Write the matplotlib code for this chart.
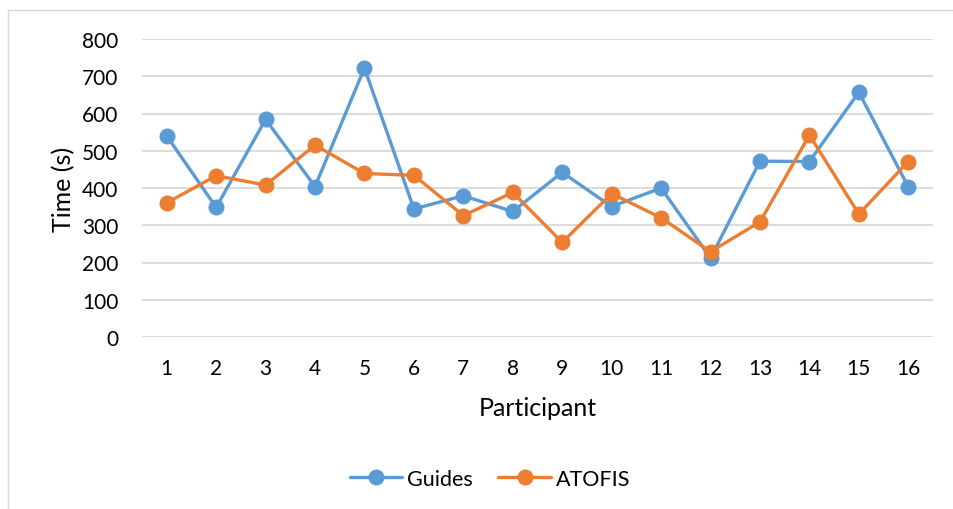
import matplotlib.pyplot as plt
from matplotlib.patches import Rectangle

# data
participants = list(range(1, 17))
guides = [540, 348, 584, 404, 722, 344, 379, 337, 442, 350, 400, 212, 472, 471, 657, 403]
atofis = [360, 433, 408, 515, 439, 434, 326, 388, 254, 385, 320, 229, 309, 542, 330, 471]
yticks = [0, 100, 200, 300, 400, 500, 600, 700, 800]

plt.rcParams['font.family'] = ['Lato', 'DejaVu Sans']

fig = plt.figure(figsize=(9.54, 5.10), dpi=100)
ax = fig.add_axes([142 / 954, 1 - 338 / 510, (933 - 142) / 954, (338 - 40) / 510])

# chart border (light gray frame, cut off at right/bottom)
fig.patches.append(Rectangle((8 / 954, -0.1), 1.2, 1 - 11 / 510 + 0.1,
                             transform=fig.transFigure, fill=False,
                             edgecolor='#D9D9D9', linewidth=1.0))

ax.plot(participants, guides, color='#5B9BD5', lw=2.4, marker='o', ms=10.5,
        label='Guides', solid_capstyle='round', zorder=3)
ax.plot(participants, atofis, color='#ED7D31', lw=2.4, marker='o', ms=10.5,
        label='ATOFIS', solid_capstyle='round', zorder=4)

ax.set_xlim(0.5, 16.5)
ax.set_ylim(0, 800)
ax.set_xticks(participants)
ax.set_yticks(yticks)
ax.grid(axis='y', color='#D9D9D9', lw=1.3)
ax.set_axisbelow(True)
for s in ax.spines.values():
    s.set_visible(False)
ax.tick_params(length=0, labelsize=15, colors='#000000')
ax.tick_params(axis='x', pad=15)
ax.tick_params(axis='y', pad=17)

ax.set_xlabel('Participant', fontsize=18, labelpad=13)
ax.set_ylabel('Time (s)', fontsize=18, labelpad=5)

fig.legend(loc='center', bbox_to_anchor=(490 / 954, 1 - 480 / 510), ncol=2,
           frameon=False, fontsize=15.5, handlelength=2.46, columnspacing=1.16,
           handletextpad=0.23)

fig.savefig('out.png', dpi=100)
